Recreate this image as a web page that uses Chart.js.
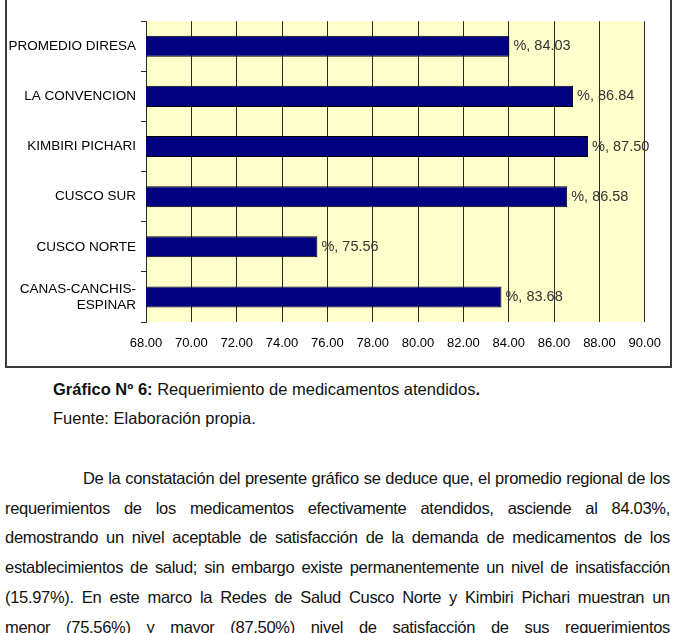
<!DOCTYPE html>
<html>
<head>
<meta charset="utf-8">
<script src="https://cdn.jsdelivr.net/npm/chart.js@4/dist/chart.umd.min.js"></script>
<style>
  body { margin: 0; background: #fff; width: 675px; height: 633px; overflow: hidden; position: relative; font-family: "Liberation Sans", Arial, sans-serif; }
  #marco { position: absolute; left: 5px; top: -10px; width: 663px; height: 374px; border: 2px solid #3a3a3a; }
  #wrap { position: absolute; left: 0; top: 0; width: 675px; height: 362px; }
  .cap { position: absolute; left: 53px; font-size: 16.5px; line-height: 29px; color: #111; }
  .par { position: absolute; left: 5px; width: 665px; font-size: 16.5px; letter-spacing: -0.3px; line-height: 29.7px; color: #111; }
  .par div { text-align: justify; text-align-last: justify; }
</style>
</head>
<body>
<div id="marco"></div>
<div id="wrap"><canvas id="myChart"></canvas></div>

<div class="cap" style="top:375px"><b>Gráfico Nº 6:</b> Requerimiento de medicamentos atendidos<b>.</b><br>Fuente: Elaboración propia.</div>

<div class="par" style="top:464px">
  <div style="padding-left:78px">De la constatación del presente gráfico se deduce que, el promedio regional de los</div>
  <div>requerimientos de los medicamentos efectivamente atendidos, asciende al 84.03%,</div>
  <div>demostrando un nivel aceptable de satisfacción de la demanda de medicamentos de los</div>
  <div>establecimientos de salud; sin embargo existe permanentemente un nivel de insatisfacción</div>
  <div>(15.97%). En este marco la Redes de Salud Cusco Norte y Kimbiri Pichari muestran un</div>
  <div>menor (75.56%) y mayor (87.50%) nivel de satisfacción de sus requerimientos</div>
</div>

<script>
// datos del grafico (de arriba hacia abajo)
const redes = ['PROMEDIO DIRESA', 'LA CONVENCION', 'KIMBIRI PICHARI', 'CUSCO SUR', 'CUSCO NORTE', ['CANAS-CANCHIS-', 'ESPINAR']];
const porcentajes = [84.03, 86.84, 87.50, 86.58, 75.56, 83.68];
const ejeMin = 68;
const ejeMax = 90;
const paso = 2;

// fondo amarillo del area de trazado
const fondoPlot = {
    id: 'fondoPlot',
    beforeDraw(chart) {
        const { ctx, chartArea: a } = chart;
        ctx.save();
        ctx.fillStyle = '#FFFFCC';
        ctx.fillRect(a.left, a.top, a.right - a.left, a.bottom - a.top);
        ctx.restore();
    }
};

// etiquetas "%, valor" al final de cada barra
const etiquetas = {
    id: 'etiquetas',
    afterDatasetsDraw(chart) {
        const ctx = chart.ctx;
        const meta = chart.getDatasetMeta(0);
        ctx.save();
        ctx.font = '14.5px "Liberation Sans", Arial, sans-serif';
        ctx.fillStyle = '#333';
        ctx.textBaseline = 'middle';
        meta.data.forEach((bar, i) => {
            ctx.fillText('%, ' + porcentajes[i].toFixed(2), bar.x + 4, bar.y);
        });
        ctx.restore();
    }
};

const ctx = document.getElementById('myChart').getContext('2d');
const myChart = new Chart(ctx, {
    type: 'bar',
    data: {
        labels: redes,
        datasets: [{
            data: porcentajes,
            backgroundColor: '#000080',
            borderColor: '#000000',
            borderWidth: 1,
            borderSkipped: false,
            categoryPercentage: 1,
            barPercentage: 0.42
        }]
    },
    options: {
        indexAxis: 'y',
        responsive: true,
        maintainAspectRatio: false,
        animation: false,
        layout: { padding: { top: 4, right: 28, left: 0, bottom: 0 } },
        plugins: { legend: { display: false }, tooltip: { enabled: false } },
        scales: {
            x: {
                min: ejeMin,
                max: ejeMax,
                ticks: {
                    stepSize: paso,
                    color: '#000',
                    padding: 14,
                    font: { size: 13, family: '"Liberation Sans", Arial, sans-serif' },
                    callback: v => Number(v).toFixed(2)
                },
                grid: { color: '#2a2a2a', lineWidth: 1, drawTicks: false },
                border: { display: false },
                afterFit: s => { s.height = 40; }
            },
            y: {
                ticks: {
                    color: '#000',
                    padding: 5,
                    font: { size: 13.5, family: '"Liberation Sans", Arial, sans-serif' }
                },
                grid: { drawOnChartArea: false, drawTicks: true, tickLength: 5, color: '#2a2a2a' },
                border: { display: true, color: '#2a2a2a', width: 1 },
                afterFit: s => { s.width = 146; }
            }
        }
    },
    plugins: [fondoPlot, etiquetas]
});
</script>
</body>
</html>
